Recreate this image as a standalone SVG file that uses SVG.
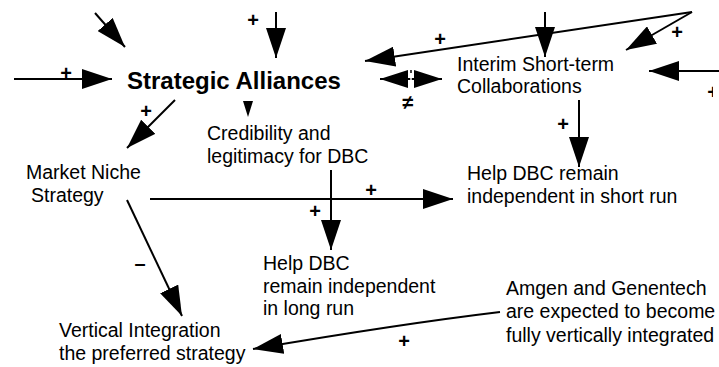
<svg xmlns="http://www.w3.org/2000/svg" width="719" height="367" viewBox="0 0 719 367">
<style>
text{font-family:"Liberation Sans",Arial,sans-serif;fill:#000}
.n{font-size:19.5px}
.b{font-size:24px;font-weight:bold}
.s{font-size:20px;font-weight:bold}
.c line,.c path{stroke:#000;stroke-width:2;fill:none}
</style>
<defs>
<marker id="ah" viewBox="0 0 30 20" refX="30" refY="10" markerWidth="30" markerHeight="20" markerUnits="userSpaceOnUse" orient="auto-start-reverse">
<path d="M0,0 L30,10 L0,20 z" fill="#000"/>
</marker>
<marker id="ah2" viewBox="0 0 28 18" refX="28" refY="9" markerWidth="28" markerHeight="18" markerUnits="userSpaceOnUse" orient="auto-start-reverse">
<path d="M0,0 L28,9 L0,18 z" fill="#000"/>
</marker>
<clipPath id="cut"><rect x="0" y="0" width="713" height="367"/></clipPath>
</defs>
<g id="connectors" class="c">
<line x1="95" y1="13" x2="125" y2="47" marker-end="url(#ah)"/>
<line x1="14" y1="79" x2="112" y2="79" marker-end="url(#ah)"/>
<line x1="276" y1="12" x2="276" y2="58" marker-end="url(#ah)"/>
<line x1="692" y1="12" x2="365" y2="61" marker-end="url(#ah)"/>
<line x1="545" y1="12" x2="545" y2="57" marker-end="url(#ah)"/>
<line x1="692" y1="12" x2="626" y2="50" marker-end="url(#ah)"/>
<line x1="719" y1="71" x2="649" y2="71" marker-end="url(#ah)"/>
<line x1="380" y1="79" x2="442" y2="79" marker-start="url(#ah2)" marker-end="url(#ah2)"/>
<line x1="411" y1="70" x2="411" y2="88" style="stroke:#fff;stroke-width:1.5"/>
<line x1="411" y1="70" x2="411" y2="73" style="stroke-width:1.5"/>
<line x1="175" y1="100" x2="127" y2="148" marker-end="url(#ah)"/>
<polygon points="243,101 253,101 248,117" fill="#000"/>
<line x1="150" y1="199" x2="453" y2="199" marker-end="url(#ah)"/>
<line x1="331" y1="170" x2="331" y2="250" marker-end="url(#ah)"/>
<line x1="579" y1="100" x2="579" y2="167" marker-end="url(#ah)"/>
<line x1="127" y1="200" x2="182" y2="316" marker-end="url(#ah)"/>
<path d="M500,312 Q400,324 253,349" marker-end="url(#ah)"/>
</g>
<g id="signs" class="s">
<text x="253" y="27" text-anchor="middle">+</text>
<text x="66" y="80" text-anchor="middle">+</text>
<text x="440" y="46" text-anchor="middle">+</text>
<text x="677" y="39" text-anchor="middle">+</text>
<text x="713" y="99" text-anchor="middle" clip-path="url(#cut)">+</text>
<text x="408" y="109" text-anchor="middle">≠</text>
<text x="146" y="118" text-anchor="middle">+</text>
<text x="563" y="131" text-anchor="middle">+</text>
<text x="371" y="197" text-anchor="middle">+</text>
<text x="315" y="218" text-anchor="middle">+</text>
<text x="140" y="270" text-anchor="middle">–</text>
<text x="404" y="348" text-anchor="middle">+</text>
</g>
<g id="strategic-alliances"><text class="b" x="127" y="89">Strategic Alliances</text></g>
<g id="interim"><text class="n" x="457" y="71">Interim Short-term</text><text class="n" x="457" y="93">Collaborations</text></g>
<g id="credibility"><text class="n" x="207" y="140">Credibility and</text><text class="n" x="207" y="163">legitimacy for DBC</text></g>
<g id="market-niche"><text class="n" x="26" y="179">Market Niche</text><text class="n" x="31" y="202">Strategy</text></g>
<g id="help-short"><text class="n" x="467" y="180">Help DBC remain</text><text class="n" x="467" y="203">independent in short run</text></g>
<g id="help-long"><text class="n" x="263" y="270">Help DBC</text><text class="n" x="263" y="293">remain independent</text><text class="n" x="263" y="315">in long run</text></g>
<g id="vertical"><text class="n" x="59" y="337">Vertical Integration</text><text class="n" x="59" y="360">the preferred strategy</text></g>
<g id="amgen"><text class="n" x="506" y="295">Amgen and Genentech</text><text class="n" x="506" y="318">are expected to become</text><text class="n" x="506" y="342">fully vertically integrated</text></g>
</svg>
